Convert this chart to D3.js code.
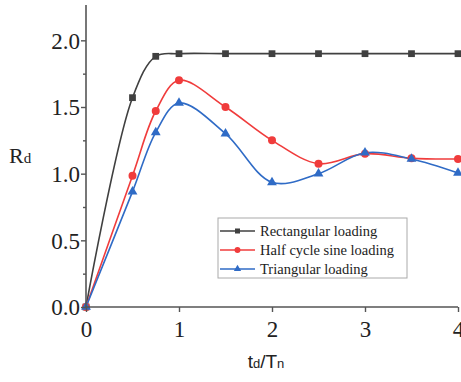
<!DOCTYPE html>
<html><head><meta charset="utf-8">
<script src="https://cdn.jsdelivr.net/npm/d3@7"></script>
<style>body{margin:0;background:#fff}</style>
</head><body>
<script>
const xRect = [0, 0.5, 0.75, 1, 1.5, 2, 2.5, 3, 3.5, 4];
const yRect = [0, 1.57, 1.88, 1.90, 1.90, 1.90, 1.90, 1.90, 1.90, 1.90];
const xSine = [0, 0.5, 0.75, 1, 1.5, 2, 2.5, 3, 3.5, 4];
const ySine = [0, 0.985, 1.47, 1.70, 1.50, 1.25, 1.075, 1.15, 1.115, 1.11];
const xTri = [0, 0.5, 0.75, 1, 1.5, 2, 2.5, 3, 3.5, 4];
const yTri = [0, 0.865, 1.31, 1.53, 1.30, 0.935, 1.0, 1.157, 1.11, 1.005];
const xTicks = [0, 1, 2, 3, 4];
const yTicks = [0, 0.5, 1.0, 1.5, 2.0];
const yMinor = [0.25, 0.75, 1.25, 1.75];
const seriesNames = ["Rectangular loading", "Half cycle sine loading", "Triangular loading"];

const W = 461, H = 382;
const svg = d3.select("body").append("svg").attr("width", W).attr("height", H);
const x = d3.scaleLinear().domain([0, 4]).range([86, 458]);
const y = d3.scaleLinear().domain([0, 2.25]).range([307, 7]);
const axisColor = "#555";
const serif = "'Liberation Serif','Times New Roman',serif";

const series = [
  {name: seriesNames[0], xs: xRect, ys: yRect, color: "#404040", sym: d3.symbolSquare, size: 46},
  {name: seriesNames[1], xs: xSine, ys: ySine, color: "#f03c3c", sym: d3.symbolCircle, size: 50},
  {name: seriesNames[2], xs: xTri, ys: yTri, color: "#2f6bc6", sym: d3.symbolTriangle, size: 42}
];

const line = d3.line().x(d => x(d[0])).y(d => y(d[1])).curve(d3.curveCatmullRom.alpha(0.5));

series.forEach(s => {
  const pts = s.xs.map((v, i) => [v, s.ys[i]]);
  svg.append("path").attr("d", line(pts)).attr("fill", "none")
    .attr("stroke", s.color).attr("stroke-width", 1.6);
});
series.forEach(s => {
  const pts = s.xs.map((v, i) => [v, s.ys[i]]);
  svg.append("g").selectAll("path").data(pts).join("path")
    .attr("d", d3.symbol().type(s.sym).size(s.size))
    .attr("transform", d => `translate(${x(d[0])},${y(d[1])})`)
    .attr("fill", s.color);
});

// axes
const xAxis = svg.append("g").attr("transform", "translate(0,307)")
  .call(d3.axisBottom(x).tickValues(xTicks).tickFormat(d3.format("d")).tickSize(5).tickSizeOuter(0));
const yAxis = svg.append("g").attr("transform", "translate(86,0)")
  .call(d3.axisLeft(y).tickValues(yTicks).tickFormat(d3.format(".1f")).tickSize(5).tickSizeOuter(0));
svg.append("g").attr("transform", "translate(86,0)")
  .call(d3.axisLeft(y).tickValues(yMinor).tickFormat("").tickSize(3).tickSizeOuter(0))
  .select(".domain").remove();
svg.selectAll(".domain").attr("stroke", axisColor).attr("stroke-width", 1.6);
svg.selectAll(".tick line").attr("stroke", axisColor).attr("stroke-width", 1.4);
yAxis.select(".domain").attr("d", "M0,5V307");
xAxis.select(".domain").attr("d", "M86,0H458");
xAxis.selectAll("text").attr("font-family", serif).attr("font-size", 23).attr("fill", "#222").attr("dy", "0.95em");
yAxis.selectAll("text").attr("font-family", serif).attr("font-size", 23).attr("fill", "#222").attr("x", -6).attr("dy", "0.34em");

// axis titles
const xt = svg.append("text").attr("x", 266).attr("y", 368).attr("text-anchor", "middle")
  .attr("font-family", "'Liberation Sans',Arial,sans-serif").attr("font-size", 19).attr("fill", "#222");
xt.append("tspan").text("t");
xt.append("tspan").text("d").attr("font-size", 13);
xt.append("tspan").text("/T");
xt.append("tspan").text("n").attr("font-size", 13);

const yt = svg.append("text").attr("x", 9).attr("y", 163)
  .attr("font-family", serif).attr("font-size", 22).attr("fill", "#222");
yt.append("tspan").text("R");
yt.append("tspan").text("d").attr("font-size", 15);

// legend
const lg = svg.append("g");
lg.append("rect").attr("x", 218).attr("y", 218).attr("width", 189).attr("height", 60)
  .attr("fill", "#fff").attr("stroke", "#aaa").attr("stroke-width", 1);
series.forEach((s, i) => {
  const yy = 231 + i * 19;
  lg.append("line").attr("x1", 220).attr("x2", 255).attr("y1", yy).attr("y2", yy)
    .attr("stroke", s.color).attr("stroke-width", 1.4);
  lg.append("path").attr("d", d3.symbol().type(s.sym).size(s.size * 0.55))
    .attr("transform", `translate(237.5,${yy})`).attr("fill", s.color);
  lg.append("text").attr("x", 260).attr("y", yy).attr("dy", "0.35em")
    .attr("font-family", serif).attr("font-size", 14.5).attr("fill", "#222").text(s.name);
});
</script>
</body></html>
